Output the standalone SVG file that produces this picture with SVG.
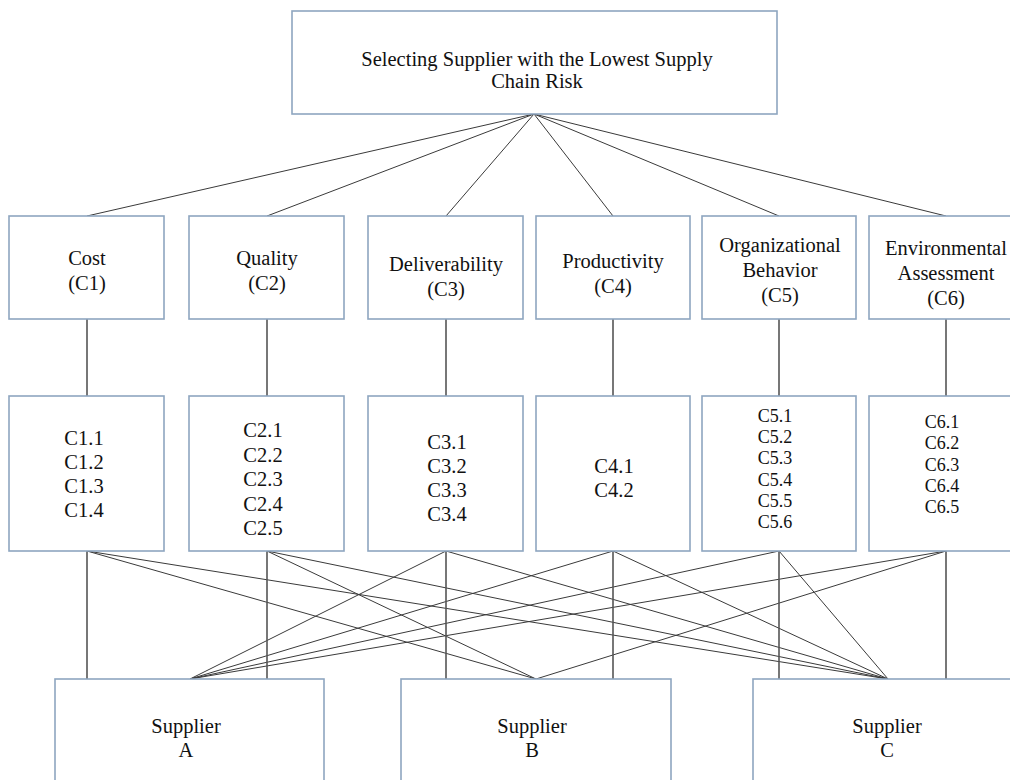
<svg xmlns="http://www.w3.org/2000/svg" width="1010" height="780" viewBox="0 0 1010 780">
<style>
.box{fill:#fff;stroke:#8ea6c0;stroke-width:1.6}
.ln{stroke:#3a3a3a;stroke-width:1;fill:none}
.v{stroke:#555;stroke-width:1.6}
</style>
<rect width="1010" height="780" fill="#fff"/>
<g id="connectors">
<g class="ln">
<line x1="534" y1="114" x2="87" y2="216"/>
<line x1="534" y1="114" x2="267" y2="216"/>
<line x1="534" y1="114" x2="446" y2="216"/>
<line x1="534" y1="114" x2="613" y2="216"/>
<line x1="534" y1="114" x2="779" y2="216"/>
<line x1="534" y1="114" x2="946" y2="216"/>
<line x1="87" y1="551" x2="536" y2="679"/>
<line x1="87" y1="551" x2="888" y2="679"/>
<line x1="267" y1="551" x2="536" y2="679"/>
<line x1="267" y1="551" x2="888" y2="679"/>
<line x1="446" y1="551" x2="190" y2="679"/>
<line x1="446" y1="551" x2="888" y2="679"/>
<line x1="613" y1="551" x2="190" y2="679"/>
<line x1="613" y1="551" x2="888" y2="679"/>
<line x1="779" y1="551" x2="190" y2="679"/>
<line x1="779" y1="551" x2="888" y2="679"/>
<line x1="946" y1="551" x2="190" y2="679"/>
<line x1="946" y1="551" x2="536" y2="679"/>
</g>
<g class="v">
<line x1="87" y1="319" x2="87" y2="396"/>
<line x1="267" y1="319" x2="267" y2="396"/>
<line x1="446" y1="319" x2="446" y2="396"/>
<line x1="613" y1="319" x2="613" y2="396"/>
<line x1="779" y1="319" x2="779" y2="396"/>
<line x1="946" y1="319" x2="946" y2="396"/>
<line x1="87" y1="551" x2="87" y2="679"/>
<line x1="267" y1="551" x2="267" y2="679"/>
<line x1="446" y1="551" x2="446" y2="679"/>
<line x1="613" y1="551" x2="613" y2="679"/>
<line x1="779" y1="551" x2="779" y2="679"/>
<line x1="946" y1="551" x2="946" y2="679"/>
</g>
</g>
<g font-family="Liberation Serif" font-size="20.5" fill="#111" text-anchor="middle">
<g id="goal">
<rect class="box" x="292" y="11" width="485" height="103"/>
<text x="537" y="66">Selecting Supplier with the Lowest Supply</text>
<text x="537" y="88">Chain Risk</text>
</g>
<g id="c1">
<rect class="box" x="9" y="216" width="155" height="103"/>
<text x="87" y="265">Cost</text>
<text x="87" y="290">(C1)</text>
</g>
<g id="c2">
<rect class="box" x="189" y="216" width="155" height="103"/>
<text x="267" y="265">Quality</text>
<text x="267" y="290">(C2)</text>
</g>
<g id="c3">
<rect class="box" x="368" y="216" width="155" height="103"/>
<text x="446" y="271">Deliverability</text>
<text x="446" y="296">(C3)</text>
</g>
<g id="c4">
<rect class="box" x="536" y="216" width="154" height="103"/>
<text x="613" y="268">Productivity</text>
<text x="613" y="293">(C4)</text>
</g>
<g id="c5">
<rect class="box" x="702" y="216" width="154" height="103"/>
<text x="780" y="252">Organizational</text>
<text x="780" y="277">Behavior</text>
<text x="780" y="302">(C5)</text>
</g>
<g id="c6">
<rect class="box" x="869" y="216" width="155" height="103"/>
<text x="946" y="255">Environmental</text>
<text x="946" y="280">Assessment</text>
<text x="946" y="305">(C6)</text>
</g>
<g id="s1">
<rect class="box" x="9" y="396" width="155" height="155"/>
<text x="84" y="445">C1.1</text>
<text x="84" y="469">C1.2</text>
<text x="84" y="493">C1.3</text>
<text x="84" y="517">C1.4</text>
</g>
<g id="s2">
<rect class="box" x="189" y="396" width="155" height="155"/>
<text x="263" y="437">C2.1</text>
<text x="263" y="461.5">C2.2</text>
<text x="263" y="486">C2.3</text>
<text x="263" y="510.5">C2.4</text>
<text x="263" y="535">C2.5</text>
</g>
<g id="s3">
<rect class="box" x="368" y="396" width="155" height="155"/>
<text x="447" y="449">C3.1</text>
<text x="447" y="473">C3.2</text>
<text x="447" y="497">C3.3</text>
<text x="447" y="521">C3.4</text>
</g>
<g id="s4">
<rect class="box" x="536" y="396" width="154" height="155"/>
<text x="614" y="473">C4.1</text>
<text x="614" y="497">C4.2</text>
</g>
<g id="s5" font-size="18">
<rect class="box" x="702" y="396" width="154" height="155"/>
<text x="775" y="422">C5.1</text>
<text x="775" y="443.2">C5.2</text>
<text x="775" y="464.4">C5.3</text>
<text x="775" y="485.6">C5.4</text>
<text x="775" y="506.8">C5.5</text>
<text x="775" y="528">C5.6</text>
</g>
<g id="s6" font-size="18">
<rect class="box" x="869" y="396" width="155" height="155"/>
<text x="942" y="428">C6.1</text>
<text x="942" y="449.3">C6.2</text>
<text x="942" y="470.5">C6.3</text>
<text x="942" y="491.8">C6.4</text>
<text x="942" y="513">C6.5</text>
</g>
<g id="supplierA">
<rect class="box" x="55" y="679" width="269" height="120"/>
<text x="186" y="733">Supplier</text>
<text x="186" y="757">A</text>
</g>
<g id="supplierB">
<rect class="box" x="401" y="679" width="270" height="120"/>
<text x="532" y="733">Supplier</text>
<text x="532" y="757">B</text>
</g>
<g id="supplierC">
<rect class="box" x="753" y="679" width="270" height="120"/>
<text x="887" y="733">Supplier</text>
<text x="887" y="757">C</text>
</g>
</g>
</svg>
